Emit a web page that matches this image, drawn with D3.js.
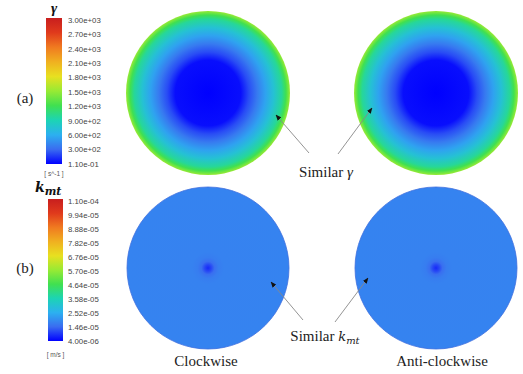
<!DOCTYPE html>
<html><head><meta charset="utf-8">
<script src="https://cdn.jsdelivr.net/npm/d3@7"></script>
<style>html,body{margin:0;padding:0;background:#fff;overflow:hidden}</style>
</head><body>
<svg id="c" width="523" height="374"></svg>
<script>
// ---- data ----
const colorStops = [0, 0.1, 0.2, 0.3, 0.4, 0.5, 0.6, 0.7, 0.8, 0.9, 1];
const colorHex = ["#0000ff","#3a6cf0","#2cb0f0","#1cd4b4","#40e050","#98ea34","#e8e020","#f0b020","#f07a20","#e03a1c","#c81e1e"];

const gammaTickLabels = ["3.00e+03","2.70e+03","2.40e+03","2.10e+03","1.80e+03","1.50e+03","1.20e+03","9.00e+02","6.00e+02","3.00e+02","1.10e-01"];
const gammaTickValues = [3000, 2700, 2400, 2100, 1800, 1500, 1200, 900, 600, 300, 0.11];
const kmtTickLabels = ["1.10e-04","9.94e-05","8.88e-05","7.82e-05","6.76e-05","5.70e-05","4.64e-05","3.58e-05","2.52e-05","1.46e-05","4.00e-06"];
const kmtTickValues = [1.10e-4, 9.94e-5, 8.88e-5, 7.82e-5, 6.76e-5, 5.70e-5, 4.64e-5, 3.58e-5, 2.52e-5, 1.46e-5, 4.00e-6];

// radial profiles (fraction of radius -> value)
const gammaRadius = [0, 0.4, 0.5, 0.6, 0.7, 0.8, 0.9, 0.95, 1.0];
const gammaValues = [0.11, 40, 210, 360, 540, 740, 980, 1200, 1500];
const kmtRadius = [0, 0.04, 0.08, 0.13, 0.2, 1.0];
const kmtValues = [8.0e-6, 1.1e-5, 1.5e-5, 1.72e-5, 1.8e-5, 1.82e-5];

const panelLabels = ["(a)", "(b)"];
const columnLabels = ["Clockwise", "Anti-clockwise"];
const gammaUnit = "[ s^-1 ]";
const kmtUnit = "[ m/s ]";

// ---- drawing ----
const svg = d3.select("#c");
const defs = svg.append("defs");
const cmap = d3.scaleLinear().domain(colorStops).range(colorHex).interpolate(d3.interpolateRgb).clamp(true);
const gT = d3.scaleLinear().domain([0.11, 3000]).range([0, 1]);
const kT = d3.scaleLinear().domain([4.0e-6, 1.10e-4]).range([0, 1]);

const xCol = d3.scalePoint().domain(columnLabels).range([208, 436]);
const yRow = d3.scalePoint().domain(panelLabels).range([93, 268]);

defs.append("marker").attr("id", "ah").attr("viewBox", "0 0 10 10")
  .attr("refX", 9).attr("refY", 5).attr("markerWidth", 6).attr("markerHeight", 6)
  .attr("markerUnits", "userSpaceOnUse").attr("orient", "auto")
  .append("path").attr("d", "M0,1 L10,5 L0,9 Z").attr("fill", "#111");

function radial(id, radii, vals, tScale) {
  const g = defs.append("radialGradient").attr("id", id).attr("cx", "50%").attr("cy", "50%").attr("r", "50%");
  g.selectAll("stop").data(radii).join("stop")
    .attr("offset", d => (d * 100) + "%")
    .attr("stop-color", (d, i) => cmap(tScale(vals[i])));
}
radial("gGamma", gammaRadius, gammaValues, gT);
radial("gKmt", kmtRadius, kmtValues, kT);

function vbar(id) {
  const g = defs.append("linearGradient").attr("id", id).attr("x1", 0).attr("y1", 1).attr("x2", 0).attr("y2", 0);
  g.selectAll("stop").data(colorStops).join("stop")
    .attr("offset", d => (d * 100) + "%").attr("stop-color", (d, i) => colorHex[i]);
}
vbar("cbar");

// circles
const rowsInfo = [
  {row: "(a)", fill: "url(#gGamma)", r: 82, stroke: "none"},
  {row: "(b)", fill: "url(#gKmt)", r: 81, stroke: "#3d6ede"}
];
rowsInfo.forEach(ri => {
  columnLabels.forEach(col => {
    svg.append("circle").attr("cx", xCol(col)).attr("cy", yRow(ri.row)).attr("r", ri.r)
      .attr("fill", ri.fill).attr("stroke", ri.stroke).attr("stroke-width", 0.8);
  });
});

// legends
function legend(top, bottom, x0, w, labels, values, dom, unitY, unit) {
  const y = d3.scaleLinear().domain(dom).range([bottom, top]);
  svg.append("rect").attr("x", x0).attr("y", top - 2).attr("width", w).attr("height", bottom - top + 2).attr("fill", "url(#cbar)");
  svg.append("g").selectAll("text").data(labels).join("text")
    .attr("x", 68).attr("y", (d, i) => y(values[i]))
    .attr("dy", "0.35em")
    .attr("font-family", "Liberation Sans, Arial, sans-serif").attr("font-size", 7.8)
    .attr("fill", "#444").text(d => d);
  svg.append("text").attr("x", x0 + w / 2).attr("y", unitY).attr("text-anchor", "middle")
    .attr("font-family", "Liberation Sans, Arial, sans-serif").attr("font-size", 6.5).attr("fill", "#555").text(unit);
}
legend(20, 164, 46, 16, gammaTickLabels, gammaTickValues, [0.11, 3000], 176, gammaUnit);
legend(201, 341, 48, 15, kmtTickLabels, kmtTickValues, [4.0e-6, 1.10e-4], 357, kmtUnit);

// titles
svg.append("text").attr("x", 54).attr("y", 13).attr("text-anchor", "middle")
  .attr("font-family", "Liberation Serif, Times New Roman, serif").attr("font-size", 15)
  .attr("font-weight", "bold").attr("font-style", "italic").attr("fill", "#111").text("γ");
const kt = svg.append("text").attr("x", 35).attr("y", 192)
  .attr("font-family", "DejaVu Serif, Liberation Serif, serif").attr("font-size", 14)
  .attr("font-weight", "bold").attr("font-style", "italic").attr("fill", "#111");
kt.append("tspan").text("k");
kt.append("tspan").attr("font-size", 11).attr("dy", 3).text("mt");

// panel labels
svg.append("g").selectAll("text").data(panelLabels).join("text")
  .attr("x", 25).attr("y", d => yRow(d) + (d === "(a)" ? 10 : 5)).attr("text-anchor", "middle")
  .attr("font-family", "Liberation Serif, Times New Roman, serif").attr("font-size", 15).attr("fill", "#222")
  .text(d => d);

// column labels
svg.append("g").selectAll("text").data(columnLabels).join("text")
  .attr("x", (d, i) => xCol(d) + (i ? 6 : -2)).attr("y", 366).attr("text-anchor", "middle")
  .attr("font-family", "Liberation Serif, Times New Roman, serif").attr("font-size", 15).attr("fill", "#222")
  .text(d => d);

// annotations
const serif = "Liberation Serif, Times New Roman, serif";
const sg = svg.append("text").attr("x", 326).attr("y", 177).attr("text-anchor", "middle")
  .attr("font-family", serif).attr("font-size", 15).attr("fill", "#222");
sg.append("tspan").text("Similar ");
sg.append("tspan").attr("font-style", "italic").text("γ");
const sk = svg.append("text").attr("x", 325).attr("y", 341).attr("text-anchor", "middle")
  .attr("font-family", serif).attr("font-size", 15).attr("fill", "#222");
sk.append("tspan").text("Similar ");
sk.append("tspan").attr("font-family", "DejaVu Serif, serif").attr("font-style", "italic").attr("font-size", 13).text("k");
sk.append("tspan").attr("font-family", "DejaVu Serif, serif").attr("font-style", "italic").attr("font-size", 10).attr("dy", 3).text("mt");

const arrows = [
  [309, 153, 276, 115], [338, 154, 372, 108],
  [303, 320, 271, 282], [335, 322, 368, 278]
];
svg.append("g").selectAll("line").data(arrows).join("line")
  .attr("x1", d => d[0]).attr("y1", d => d[1]).attr("x2", d => d[2]).attr("y2", d => d[3])
  .attr("stroke", "#888").attr("stroke-width", 0.9).attr("marker-end", "url(#ah)");
</script>
</body></html>
